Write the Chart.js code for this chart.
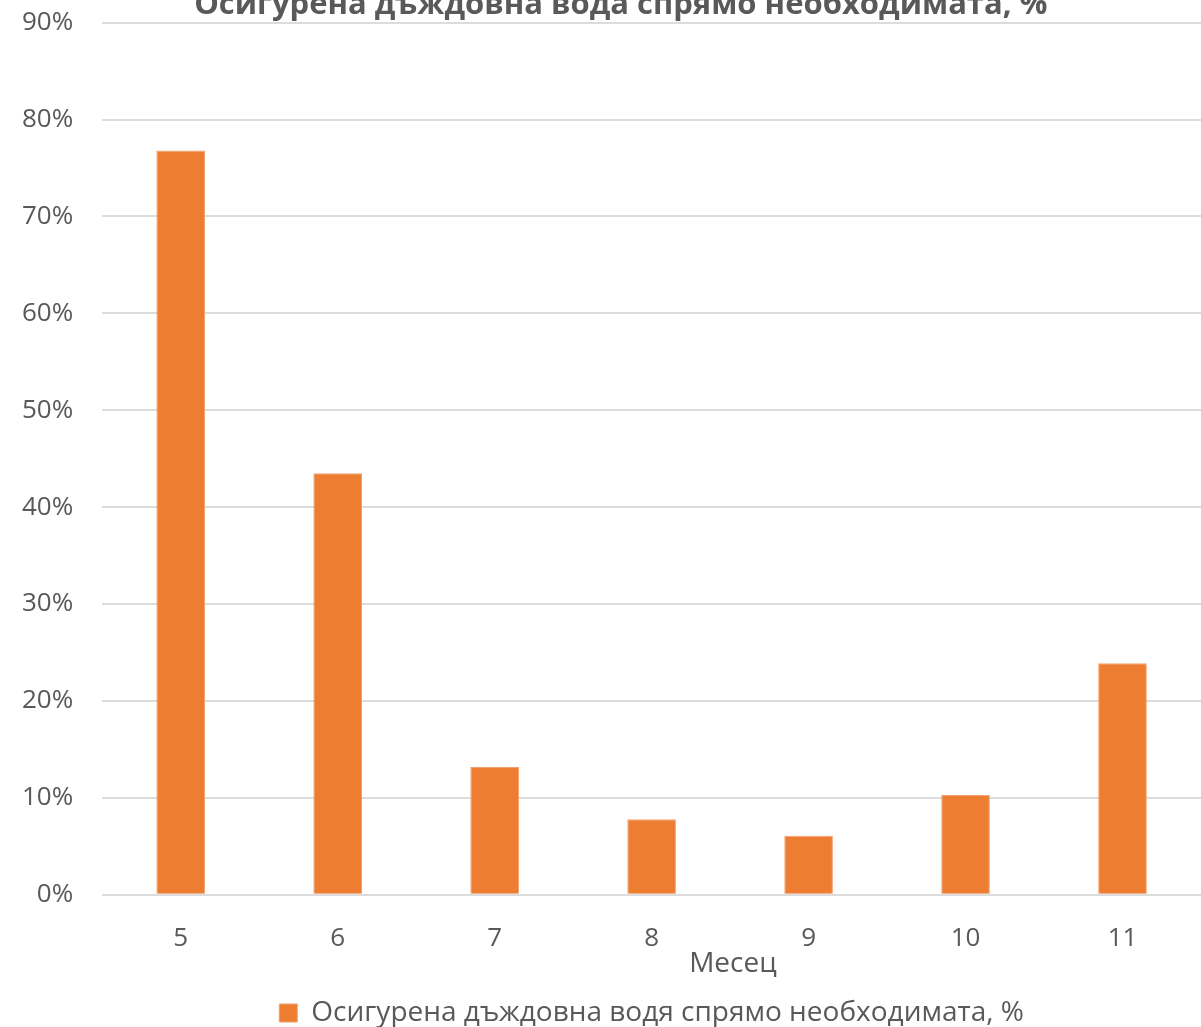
<!DOCTYPE html>
<html>
<head>
<meta charset="utf-8">
<script src="https://cdn.jsdelivr.net/npm/chart.js@4/dist/chart.umd.min.js"></script>
<style>
  html, body { margin: 0; padding: 0; background: #fff; overflow: hidden; width: 1201px; height: 1027px; }
  /* the heading runs off the top edge of the frame */
  #wrap { position: absolute; left: 0; top: -22px; width: 1201px; height: 1049px; }
</style>
</head>
<body>
<div id="wrap"><canvas id="c"></canvas></div>
<script>
// Months and the share of required water covered by rainfall
const months = ['5', '6', '7', '8', '9', '10', '11'];
const rainShare = [76.8, 43.5, 13.2, 7.8, 6.1, 10.3, 23.9];
const yTicks = [0, 10, 20, 30, 40, 50, 60, 70, 80, 90];

const chartTitle = 'Осигурена дъждовна вода спрямо необходимата, %';
const seriesName = 'Осигурена дъждовна водя спрямо необходимата, %';
const xTitle = 'Месец';

const FONT = "'Open Sans', 'DejaVu Sans', sans-serif";
const TEXT = '#595959';

// Chart heading above the plot and the axis caption under the month labels
const captions = {
  id: 'captions',
  afterDraw(chart) {
    const { ctx, chartArea } = chart;
    const w = chartArea.right - chartArea.left;
    ctx.save();
    ctx.fillStyle = TEXT;
    ctx.textAlign = 'center';

    ctx.font = `bold 31px ${FONT}`;
    ctx.textBaseline = 'alphabetic';
    ctx.fillText(chartTitle, chartArea.left + w * 0.472, chartArea.top - 9);

    ctx.font = `28px ${FONT}`;
    ctx.textBaseline = 'middle';
    ctx.fillText(xTitle, chartArea.left + w * 0.574, chartArea.bottom + 69);
    ctx.restore();
  }
};

new Chart(document.getElementById('c'), {
  type: 'bar',
  data: {
    labels: months,
    datasets: [{
      label: seriesName,
      data: rainShare,
      backgroundColor: '#ED7D31',
      borderColor: '#F3A170',
      borderWidth: 1,
      categoryPercentage: 1,
      barPercentage: 0.31
    }]
  },
  options: {
    responsive: true,
    maintainAspectRatio: false,
    animation: false,
    devicePixelRatio: 1,
    layout: { padding: { left: -7, right: 0, top: 0, bottom: -10 } },
    plugins: {
      title: { display: false },
      legend: {
        position: 'bottom',
        fullSize: false,
        labels: {
          color: TEXT,
          font: { family: FONT, size: 28 },
          boxWidth: 18,
          boxHeight: 18,
          padding: 25
        }
      },
      tooltip: { enabled: false }
    },
    scales: {
      x: {
        grid: { display: false },
        border: { display: false },
        ticks: { color: TEXT, font: { family: FONT, size: 26 }, padding: 20 }
      },
      y: {
        min: 0,
        max: 90,
        afterBuildTicks(scale) { scale.ticks = yTicks.map(v => ({ value: v })); },
        grid: { color: '#DCDCDC', lineWidth: 2, drawTicks: false },
        border: { display: false },
        ticks: {
          color: TEXT,
          font: { family: FONT, size: 26 },
          padding: 29,
          callback: v => v + '%'
        }
      }
    }
  },
  plugins: [captions]
});
</script>
</body>
</html>
